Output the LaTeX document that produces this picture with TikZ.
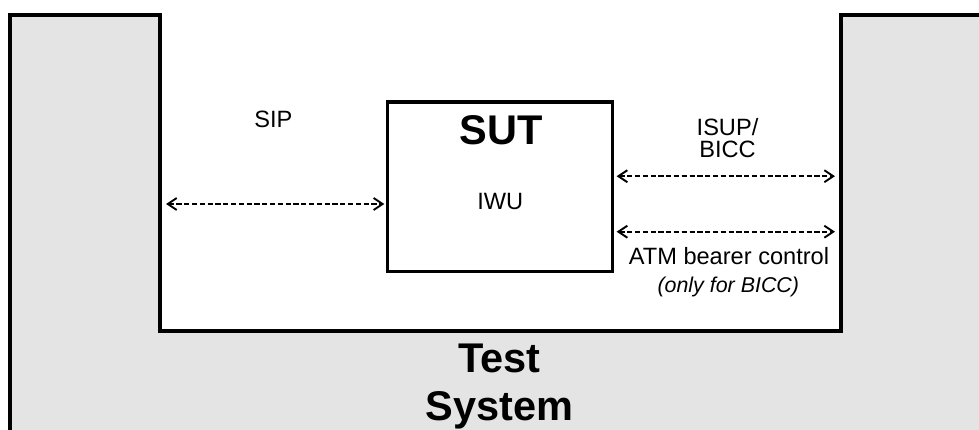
\documentclass[tikz,border=0pt]{standalone}
\usepackage{fontspec}
\setmainfont{Liberation Sans}
\usetikzlibrary{arrows.meta}
\definecolor{tsgray}{RGB}{228,228,228}
\begin{document}
\begin{tikzpicture}[x=1pt,y=-1pt,
  lbl/.style={font=\fontsize{23.6}{22}\selectfont, anchor=base, inner sep=0pt, align=center},
  note/.style={font=\fontsize{21.4}{20}\selectfont\itshape, anchor=base, inner sep=0pt},
  big/.style={font=\fontsize{41.5}{48}\selectfont\bfseries, anchor=base, inner sep=0pt, align=center},
  sig/.style={line width=1.9pt, dash pattern=on 5.2pt off 2.6pt,
    {Straight Barb[length=9pt,width=12pt]}-{Straight Barb[length=9pt,width=12pt]}},
  frame/.style={line width=4pt},
  sutbox/.style={draw, line width=3.3pt, minimum width=225pt, minimum height=169.5pt, inner sep=0pt},
]
\useasboundingbox (0,0) rectangle (979,430);
% test system area
\fill[tsgray] (9.5,15) -- (160,15) -- (160,331) -- (841,331) -- (841,15) -- (979,15) -- (979,430) -- (9.5,430) -- cycle;
\draw[frame] (9.5,432) -- (9.5,15) -- (160,15) -- (160,331) -- (841,331) -- (841,15) -- (981,15);
% SUT
\node[sutbox] (sut) at (500,186.75) {};
\node[big] (sutlbl) at (501,145) {SUT};
\node[lbl] (iwu) at (500.2,210) {IWU};
% SIP side
\node[lbl] (sip) at (273.3,127.3) {SIP};
\coordinate (sipL) at (166,204);
\draw[sig, shorten >=1.5pt] (sipL) -- (sipL -| sut.west);
% ISUP/BICC side
\node[lbl] (isup) at (727.5,157.2) {ISUP/\\BICC};
\coordinate (isupR) at (835,176.2);
\draw[sig, shorten <=2.5pt] (isupR -| sut.east) -- (isupR);
\coordinate (atmR) at (835,231.7);
\draw[sig, shorten <=2.5pt] (atmR -| sut.east) -- (atmR);
\node[lbl] (atm) at (729,265) {ATM bearer control};
\node[note] (only) at (728.3,292.7) {(only for BICC)};
% Test System label
\node[big] (test) at (499.2,420.5) {Test\\System};
\end{tikzpicture}
\end{document}
